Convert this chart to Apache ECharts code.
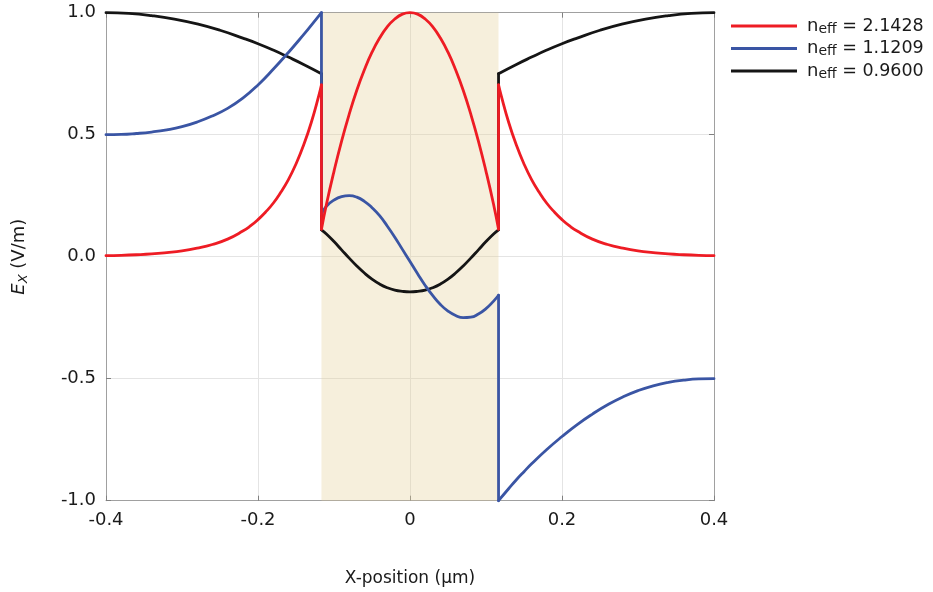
<!DOCTYPE html>
<html>
<head>
<meta charset="utf-8">
<script src="https://cdn.jsdelivr.net/npm/echarts@6/dist/echarts.min.js"></script>
<style>
html,body{margin:0;padding:0;background:#fff;}
#chart{width:933px;height:592px;}
</style>
</head>
<body>
<div id="chart"></div>
<script>
// ---- data ----
const coreEdges = [-0.1165, 0.1165];
const neffValues = ['2.1428', '1.1209', '0.9600'];
const seriesColors = ['#ee1c24', '#3a55a4', '#151515'];

const xTickLabels = {'-0.4': '-0.4', '-0.2': '-0.2', '0': '0', '0.2': '0.2', '0.4': '0.4'};
const yTickLabels = {'-1': '-1.0', '-0.5': '-0.5', '0': '0.0', '0.5': '0.5', '1': '1.0'};

const redX = [-0.40,-0.38,-0.36,-0.34,-0.32,-0.30,-0.28,-0.26,-0.24,-0.22,-0.21,-0.20,-0.19,-0.18,-0.17,-0.16,-0.15,-0.14,-0.13,-0.12,-0.1165,
  -0.1165,-0.11,-0.10,-0.09,-0.08,-0.07,-0.06,-0.05,-0.04,-0.03,-0.02,-0.01,0,
  0.01,0.02,0.03,0.04,0.05,0.06,0.07,0.08,0.09,0.10,0.11,0.1165,
  0.1165,0.12,0.13,0.14,0.15,0.16,0.17,0.18,0.19,0.20,0.21,0.22,0.24,0.26,0.28,0.30,0.32,0.34,0.36,0.38,0.40];
const redY = [0.004,0.0055,0.008,0.0115,0.017,0.024,0.035,0.050,0.072,0.105,0.126,0.152,0.183,0.219,0.264,0.316,0.380,0.457,0.549,0.660,0.704,
  0.113,0.214,0.350,0.474,0.584,0.682,0.766,0.838,0.896,0.942,0.974,0.994,1.000,
  0.994,0.974,0.942,0.896,0.838,0.766,0.682,0.584,0.474,0.350,0.214,0.113,
  0.704,0.660,0.549,0.457,0.380,0.316,0.264,0.219,0.183,0.152,0.126,0.105,0.072,0.050,0.035,0.024,0.017,0.0115,0.008,0.0055,0.004];

const blueX = [-0.40,-0.38,-0.36,-0.34,-0.32,-0.30,-0.28,-0.26,-0.24,-0.22,-0.20,-0.18,-0.16,-0.14,-0.13,-0.1165,
  -0.1165,-0.11,-0.10,-0.09,-0.08,-0.07,-0.06,-0.05,-0.04,-0.03,-0.02,-0.01,0,
  0.01,0.02,0.03,0.04,0.05,0.06,0.07,0.08,0.09,0.10,0.11,0.1165,
  0.1165,0.13,0.14,0.15,0.16,0.18,0.20,0.22,0.24,0.26,0.28,0.30,0.32,0.34,0.36,0.38,0.40];
const blueY = [0.500,0.501,0.505,0.511,0.520,0.533,0.552,0.577,0.608,0.650,0.704,0.768,0.837,0.910,0.948,1.000,
  0.175,0.207,0.232,0.246,0.250,0.244,0.227,0.201,0.168,0.126,0.080,0.030,-0.020,
  -0.070,-0.118,-0.160,-0.196,-0.223,-0.241,-0.250,-0.248,-0.235,-0.213,-0.182,-0.158,
  -1.000,-0.950,-0.914,-0.881,-0.849,-0.790,-0.737,-0.688,-0.645,-0.607,-0.575,-0.549,-0.529,-0.515,-0.506,-0.501,-0.500];

const blackX = [-0.40,-0.37,-0.34,-0.31,-0.28,-0.25,-0.22,-0.20,-0.18,-0.16,-0.14,-0.1165,
  -0.1165,-0.11,-0.10,-0.09,-0.08,-0.07,-0.06,-0.05,-0.04,-0.03,-0.02,-0.01,0,
  0.01,0.02,0.03,0.04,0.05,0.06,0.07,0.08,0.09,0.10,0.11,0.1165,
  0.1165,0.14,0.16,0.18,0.20,0.22,0.25,0.28,0.31,0.34,0.37,0.40];
const blackY = [1.000,0.997,0.988,0.974,0.954,0.928,0.896,0.873,0.847,0.818,0.788,0.750,
  0.110,0.093,0.062,0.028,-0.006,-0.038,-0.067,-0.092,-0.112,-0.127,-0.137,-0.142,-0.144,
  -0.142,-0.137,-0.127,-0.112,-0.092,-0.067,-0.038,-0.006,0.028,0.062,0.093,0.110,
  0.750,0.788,0.818,0.847,0.873,0.896,0.928,0.954,0.974,0.988,0.997,1.000];

// ---- chart ----
const FONT = 'DejaVu Sans';
const TXT = '#1a1a1a';
const AXIS = '#a0a0a0';
const names = neffValues.map(v => 'neff = ' + v);
const allX = [redX, blueX, blackX];
const allY = [redY, blueY, blackY];
const zOrder = [5, 4, 3];

// split a curve into continuous pieces (smooth) and the vertical jumps at the core edges
function splitCurve(xs, ys) {
  const pieces = [], jumps = [];
  let cur = [[xs[0], ys[0]]];
  for (let i = 1; i < xs.length; i++) {
    if (xs[i] === xs[i - 1]) {
      pieces.push(cur);
      jumps.push([[xs[i - 1], ys[i - 1]], [xs[i], ys[i]]]);
      cur = [[xs[i], ys[i]]];
    } else {
      cur.push([xs[i], ys[i]]);
    }
  }
  pieces.push(cur);
  return {pieces, jumps};
}

const chart = echarts.init(document.getElementById('chart'), null, {renderer: 'canvas'});

function xAxisBase(pos, main) {
  return {
    type: 'value', position: pos, min: -0.4, max: 0.4, interval: 0.2,
    axisLine: {show: true, onZero: false, lineStyle: {color: AXIS, width: 1}},
    axisTick: {show: true, inside: true, length: 5, lineStyle: {color: '#808080'}},
    axisLabel: {show: main, margin: 11, fontSize: 18, fontFamily: FONT, color: TXT,
      formatter: v => xTickLabels[String(Math.round(v * 10) / 10)] || ''},
    splitLine: {show: main, lineStyle: {color: '#e4e4e4', width: 1}}
  };
}
function yAxisBase(pos, main) {
  return {
    type: 'value', position: pos, min: -1, max: 1, interval: 0.5,
    axisLine: {show: true, onZero: false, lineStyle: {color: AXIS, width: 1}},
    axisTick: {show: true, inside: true, length: 5, lineStyle: {color: '#808080'}},
    axisLabel: {show: main, margin: 10, fontSize: 18, fontFamily: FONT, color: TXT,
      formatter: v => yTickLabels[String(Math.round(v * 10) / 10)] || ''},
    splitLine: {show: main, lineStyle: {color: '#e4e4e4', width: 1}}
  };
}

const xMain = Object.assign(xAxisBase('bottom', true), {
  name: 'X-position (µm)', nameLocation: 'middle', nameGap: 69,
  nameTextStyle: {fontSize: 17, fontFamily: FONT, color: TXT}
});
const yMain = Object.assign(yAxisBase('left', true), {
  name: '{e|E}{x|X}{u| (V/m)}', nameLocation: 'middle', nameRotate: 90, nameGap: 76,
  nameTextStyle: {
    color: TXT, fontFamily: FONT,
    rich: {
      e: {fontSize: 18, fontStyle: 'italic', fontFamily: FONT, color: TXT, lineHeight: 22},
      x: {fontSize: 13, fontStyle: 'italic', fontFamily: FONT, color: TXT, lineHeight: 1, verticalAlign: 'bottom'},
      u: {fontSize: 18, fontFamily: FONT, color: TXT, lineHeight: 22}
    }
  }
});

const series = [];
names.forEach((n, i) => {
  const {pieces, jumps} = splitCurve(allX[i], allY[i]);
  const style = {color: seriesColors[i], width: 2.8, join: 'round', cap: 'round'};
  pieces.forEach(p => series.push({
    name: n, type: 'line', data: p, z: zOrder[i],
    showSymbol: false, symbol: 'none', clip: false, smooth: 0.5,
    lineStyle: style, itemStyle: {color: seriesColors[i]}, emphasis: {disabled: true}
  }));
  jumps.forEach(p => series.push({
    name: n, type: 'line', data: p, z: zOrder[i],
    showSymbol: false, symbol: 'none', clip: false, smooth: false,
    lineStyle: style, itemStyle: {color: seriesColors[i]}, emphasis: {disabled: true}
  }));
});
series.push({
  name: 'core', type: 'line', data: [], z: 1, silent: true,
  markArea: {
    silent: true,
    itemStyle: {color: 'rgba(229,209,155,0.35)'},
    data: [[{xAxis: coreEdges[0]}, {xAxis: coreEdges[1]}]]
  }
});

chart.setOption({
  animation: false,
  textStyle: {fontFamily: FONT},
  grid: {left: 106, right: 219, top: 12.7, bottom: 91.3, outerBoundsMode: 'none'},
  xAxis: [xMain, xAxisBase('top', false)],
  yAxis: [yMain, yAxisBase('right', false)],
  legend: {
    data: names, orient: 'vertical', left: 731, top: 17, padding: 0,
    itemWidth: 66, itemHeight: 3, itemGap: 3.5, icon: 'rect',
    formatter: name => '{n|n}{s|eff}{t| = ' + name.split('= ')[1] + '}',
    textStyle: {
      color: TXT, fontFamily: FONT,
      rich: {
        n: {fontSize: 18, fontFamily: FONT, color: TXT, lineHeight: 20, padding: [0, 0, 0, 5]},
        s: {fontSize: 14, fontFamily: FONT, color: TXT, lineHeight: 1, verticalAlign: 'bottom'},
        t: {fontSize: 17.5, fontFamily: FONT, color: TXT, lineHeight: 20}
      }
    }
  },
  series: series
});
</script>
</body>
</html>
